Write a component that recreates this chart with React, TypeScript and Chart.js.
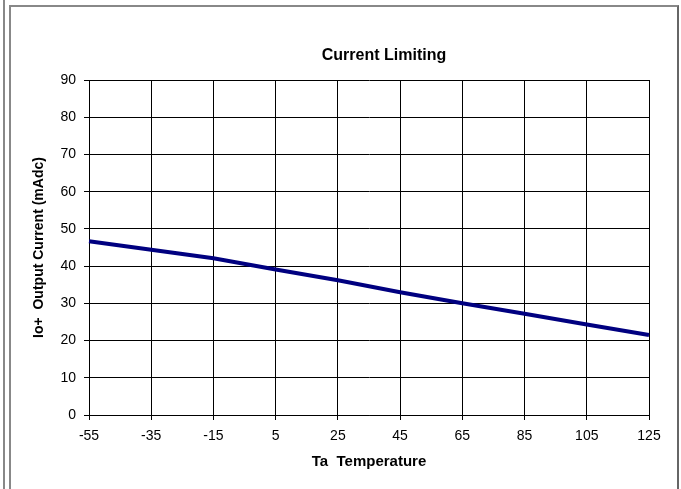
import React, { useEffect, useRef } from "react";
import { Chart, registerables } from "chart.js";

Chart.register(...registerables);

const temperatures = ["-55", "-35", "-15", "5", "25", "45", "65", "85", "105", "125"];
const outputCurrent = [46.7, 44.4, 42.1, 39.1, 36.2, 33.0, 30.0, 27.2, 24.3, 21.5];
const yTicks = [0, 10, 20, 30, 40, 50, 60, 70, 80, 90];

const chartTitle = "Current Limiting";
const xTitle = "Ta  Temperature";
const yTitle = "Io+  Output Current (mAdc)";

const FONT = "'Liberation Sans', Arial, Helvetica, sans-serif";

const titlePlugin = {
  id: "customTitle",
  afterDraw(chart: any) {
    const ctx = chart.ctx;
    ctx.save();
    ctx.font = `bold 16px ${FONT}`;
    ctx.fillStyle = "#000";
    ctx.textAlign = "center";
    ctx.textBaseline = "middle";
    ctx.fillText(chartTitle, 384, 56);
    ctx.restore();
  },
};

export default function App() {
  const ref = useRef<HTMLCanvasElement | null>(null);

  useEffect(() => {
    if (!ref.current) return;
    const chart = new Chart(ref.current, {
      type: "line",
      data: {
        labels: temperatures,
        datasets: [
          {
            data: outputCurrent,
            borderColor: "#000080",
            borderWidth: 4,
            pointRadius: 0,
            tension: 0,
            fill: false,
          },
        ],
      },
      options: {
        responsive: false,
        animation: false,
        layout: { padding: { left: 0, right: 32, top: 80, bottom: 0 } },
        plugins: {
          legend: { display: false },
          tooltip: { enabled: false },
          title: { display: false },
        },
        scales: {
          x: {
            type: "category",
            offset: false,
            afterFit(scale: any) {
              scale.height = 74;
            },
            grid: {
              color: "#000",
              lineWidth: 1,
              drawTicks: true,
              tickLength: 5,
              tickColor: "#000",
            },
            border: { color: "#000", width: 1 },
            ticks: {
              color: "#000",
              font: { family: FONT, size: 14 },
              padding: 8,
              maxRotation: 0,
              autoSkip: false,
            },
            title: {
              display: true,
              text: xTitle,
              color: "#000",
              font: { family: FONT, size: 15, weight: "bold" },
              padding: { top: 0, bottom: 18 },
            },
          },
          y: {
            type: "linear",
            min: 0,
            max: 90,
            afterFit(scale: any) {
              scale.width = 89;
            },
            afterBuildTicks(scale: any) {
              scale.ticks = yTicks.map((v) => ({ value: v }));
            },
            grid: {
              color: "#000",
              lineWidth: 1,
              drawTicks: true,
              tickLength: 5,
              tickColor: "#000",
            },
            border: { color: "#000", width: 1 },
            ticks: {
              color: "#000",
              font: { family: FONT, size: 14 },
              padding: 8,
            },
            title: {
              display: true,
              text: yTitle,
              color: "#000",
              font: { family: FONT, size: 14, weight: "bold" },
              padding: { top: 31, bottom: 0 },
            },
          },
        },
      },
      plugins: [titlePlugin],
    });
    return () => chart.destroy();
  }, []);

  return (
    <div
      style={{
        position: "fixed",
        left: 0,
        top: 0,
        width: 681,
        height: 489,
        background: "#fff",
        overflow: "hidden",
      }}
    >
      <div
        style={{
          position: "absolute",
          left: 3,
          top: 0,
          width: 2,
          height: 489,
          background: "#888",
        }}
      />
      <div
        style={{
          position: "absolute",
          left: 9,
          top: 5,
          width: 666,
          height: 500,
          border: "2px solid #888",
          borderRightColor: "#666",
        }}
      />
      <canvas
        ref={ref}
        width={681}
        height={489}
        style={{ position: "absolute", left: 0, top: 0, width: 681, height: 489 }}
      />
    </div>
  );
}
